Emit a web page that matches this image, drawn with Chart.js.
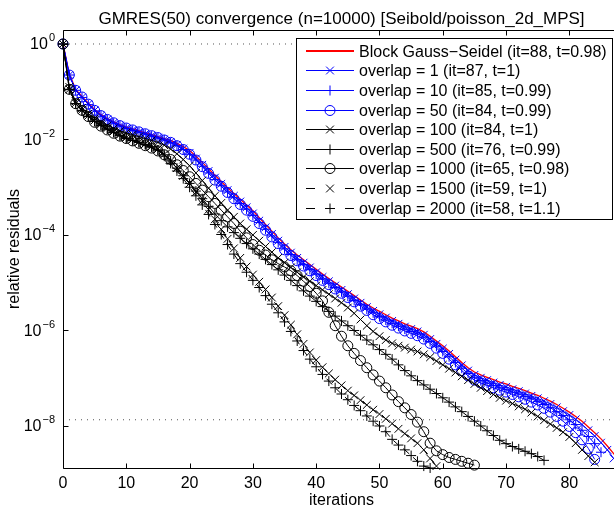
<!DOCTYPE html>
<html><head><meta charset="utf-8">
<script src="https://cdn.jsdelivr.net/npm/chart.js@4/dist/chart.umd.min.js"></script>
<style>
html,body{margin:0;padding:0;overflow:hidden;background:#fff;width:614px;height:509px}
#wrap{position:absolute;left:0;top:0;width:640px;height:509px}
</style>
</head><body><div id="wrap"><canvas id="c" width="640" height="509"></canvas></div>
<script>
// ---- text ----
const titleText = 'GMRES(50) convergence (n=10000) [Seibold/poisson_2d_MPS]';
const xAxisTitle = 'iterations';
const yAxisTitle = 'relative residuals';
const xTicks = [0,10,20,30,40,50,60,70,80];
const yTickExponents = [0,-2,-4,-6,-8];
const seriesLabels = [
  'Block Gauss\u2212Seidel (it=88, t=0.98)',
  'overlap = 1 (it=87, t=1)',
  'overlap = 10 (it=85, t=0.99)',
  'overlap = 50 (it=84, t=0.99)',
  'overlap = 100 (it=84, t=1)',
  'overlap = 500 (it=76, t=0.99)',
  'overlap = 1000 (it=65, t=0.98)',
  'overlap = 1500 (it=59, t=1)',
  'overlap = 2000 (it=58, t=1.1)'
];
// ---- data: log10 of relative residual at iteration 0,1,2,... ----
const gsLog = [0,-0.63,-0.95,-1.1,-1.24,-1.37,-1.48,-1.56,-1.63,-1.69,
 -1.74,-1.78,-1.82,-1.86,-1.9,-1.94,-1.98,-2.02,-2.08,-2.15,
 -2.23,-2.35,-2.48,-2.61,-2.75,-2.88,-3.01,-3.13,-3.25,-3.37,
 -3.49,-3.64,-3.78,-3.92,-4.06,-4.19,-4.31,-4.42,-4.52,-4.62,
 -4.72,-4.82,-4.91,-5.0,-5.09,-5.18,-5.27,-5.36,-5.45,-5.53,
 -5.6,-5.67,-5.74,-5.8,-5.86,-5.91,-5.96,-6.03,-6.12,-6.22,
 -6.32,-6.43,-6.55,-6.67,-6.78,-6.87,-6.93,-6.98,-7.03,-7.08,
 -7.12,-7.17,-7.21,-7.26,-7.31,-7.36,-7.42,-7.48,-7.55,-7.63,
 -7.71,-7.8,-7.9,-8.02,-8.14,-8.27,-8.42,-8.58,-8.75];
const ov1Log = [0,-0.65,-0.97,-1.12,-1.26,-1.39,-1.5,-1.58,-1.65,-1.71,
 -1.76,-1.8,-1.84,-1.88,-1.92,-1.96,-2.0,-2.05,-2.11,-2.19,
 -2.28,-2.4,-2.53,-2.66,-2.8,-2.93,-3.06,-3.18,-3.3,-3.42,
 -3.55,-3.7,-3.84,-3.98,-4.12,-4.25,-4.37,-4.48,-4.58,-4.68,
 -4.78,-4.88,-4.97,-5.06,-5.15,-5.24,-5.33,-5.42,-5.51,-5.59,
 -5.66,-5.73,-5.8,-5.86,-5.92,-5.97,-6.02,-6.09,-6.18,-6.28,
 -6.38,-6.49,-6.61,-6.73,-6.84,-6.93,-6.99,-7.04,-7.09,-7.14,
 -7.18,-7.23,-7.27,-7.32,-7.37,-7.42,-7.48,-7.54,-7.61,-7.69,
 -7.77,-7.86,-7.97,-8.09,-8.21,-8.35,-8.5,-8.68];
const ov10Log = [0,-0.65,-0.97,-1.12,-1.27,-1.4,-1.51,-1.59,-1.66,-1.72,
 -1.77,-1.81,-1.85,-1.89,-1.93,-1.97,-2.01,-2.07,-2.13,-2.21,
 -2.31,-2.43,-2.56,-2.7,-2.84,-2.97,-3.1,-3.22,-3.34,-3.46,
 -3.59,-3.74,-3.88,-4.02,-4.16,-4.29,-4.41,-4.52,-4.62,-4.72,
 -4.82,-4.92,-5.01,-5.1,-5.19,-5.28,-5.37,-5.46,-5.55,-5.63,
 -5.71,-5.78,-5.85,-5.91,-5.97,-6.02,-6.07,-6.14,-6.23,-6.33,
 -6.44,-6.55,-6.67,-6.79,-6.9,-6.99,-7.05,-7.1,-7.15,-7.2,
 -7.24,-7.29,-7.33,-7.38,-7.43,-7.49,-7.55,-7.62,-7.7,-7.78,
 -7.87,-7.97,-8.09,-8.22,-8.37,-8.55];
const ov50Log = [0,-0.65,-0.97,-1.11,-1.26,-1.39,-1.5,-1.58,-1.65,-1.71,
 -1.76,-1.8,-1.84,-1.88,-1.92,-1.96,-2.01,-2.06,-2.13,-2.21,
 -2.31,-2.43,-2.57,-2.71,-2.85,-2.98,-3.11,-3.24,-3.36,-3.48,
 -3.61,-3.76,-3.9,-4.04,-4.18,-4.31,-4.43,-4.54,-4.65,-4.75,
 -4.85,-4.95,-5.04,-5.13,-5.22,-5.31,-5.4,-5.49,-5.58,-5.67,
 -5.75,-5.82,-5.89,-5.95,-6.01,-6.06,-6.11,-6.18,-6.27,-6.37,
 -6.48,-6.6,-6.72,-6.84,-6.95,-7.04,-7.1,-7.15,-7.2,-7.25,
 -7.29,-7.34,-7.39,-7.44,-7.5,-7.56,-7.63,-7.71,-7.8,-7.9,
 -8.01,-8.14,-8.29,-8.47,-8.7];
const ov100Log = [0,-0.9,-1.2,-1.34,-1.46,-1.56,-1.64,-1.71,-1.77,-1.82,
 -1.86,-1.9,-1.94,-1.98,-2.02,-2.06,-2.12,-2.2,-2.3,-2.42,
 -2.55,-2.7,-2.86,-3.02,-3.18,-3.33,-3.48,-3.62,-3.76,-3.88,
 -4.0,-4.12,-4.24,-4.36,-4.48,-4.58,-4.68,-4.78,-4.88,-4.97,
 -5.06,-5.15,-5.24,-5.33,-5.42,-5.52,-5.64,-5.77,-5.9,-6.02,
 -6.12,-6.2,-6.27,-6.32,-6.36,-6.4,-6.44,-6.5,-6.56,-6.64,
 -6.72,-6.8,-6.88,-6.96,-7.04,-7.12,-7.2,-7.27,-7.34,-7.41,
 -7.47,-7.53,-7.59,-7.65,-7.72,-7.8,-7.88,-7.96,-8.04,-8.13,
 -8.23,-8.36,-8.5,-8.63,-8.76];
const ov500Log = [0,-0.95,-1.25,-1.39,-1.51,-1.62,-1.7,-1.78,-1.85,-1.91,
 -1.97,-2.02,-2.06,-2.11,-2.16,-2.22,-2.32,-2.45,-2.6,-2.76,
 -2.92,-3.08,-3.24,-3.4,-3.56,-3.7,-3.83,-3.95,-4.07,-4.18,
 -4.29,-4.4,-4.51,-4.62,-4.73,-4.84,-4.95,-5.06,-5.17,-5.28,
 -5.39,-5.5,-5.6,-5.7,-5.8,-5.9,-6.0,-6.1,-6.2,-6.3,
 -6.4,-6.5,-6.6,-6.72,-6.84,-6.95,-7.05,-7.14,-7.23,-7.32,
 -7.41,-7.5,-7.6,-7.7,-7.8,-7.9,-8.0,-8.1,-8.2,-8.3,
 -8.37,-8.43,-8.48,-8.53,-8.58,-8.64,-8.72];
const ov1000Log = [0,-0.95,-1.25,-1.39,-1.52,-1.64,-1.72,-1.8,-1.87,-1.93,
 -1.98,-2.03,-2.08,-2.13,-2.18,-2.24,-2.32,-2.42,-2.53,-2.65,
 -2.78,-2.92,-3.06,-3.2,-3.34,-3.48,-3.62,-3.76,-3.92,-4.06,
 -4.2,-4.32,-4.42,-4.52,-4.6,-4.67,-4.75,-4.85,-4.97,-5.08,
 -5.22,-5.38,-5.62,-5.9,-6.12,-6.32,-6.48,-6.63,-6.78,-6.93,
 -7.06,-7.2,-7.35,-7.49,-7.62,-7.76,-7.92,-8.12,-8.36,-8.52,
 -8.6,-8.66,-8.7,-8.74,-8.78,-8.82];
const ov1500Log = [0,-0.95,-1.24,-1.38,-1.5,-1.6,-1.68,-1.76,-1.83,-1.9,
 -1.96,-2.0,-2.05,-2.09,-2.14,-2.2,-2.31,-2.45,-2.6,-2.76,
 -2.92,-3.1,-3.28,-3.47,-3.67,-3.88,-4.08,-4.28,-4.48,-4.66,
 -4.83,-4.98,-5.14,-5.31,-5.49,-5.68,-5.88,-6.08,-6.28,-6.46,
 -6.62,-6.77,-6.9,-7.03,-7.15,-7.26,-7.36,-7.46,-7.56,-7.66,
 -7.75,-7.85,-7.95,-8.06,-8.16,-8.26,-8.36,-8.5,-8.68,-8.84];
const ov2000Log = [0,-0.95,-1.25,-1.4,-1.52,-1.62,-1.7,-1.78,-1.85,-1.92,
 -1.98,-2.02,-2.06,-2.1,-2.15,-2.22,-2.35,-2.5,-2.66,-2.82,
 -3.0,-3.18,-3.37,-3.57,-3.78,-3.99,-4.2,-4.4,-4.6,-4.78,
 -4.95,-5.1,-5.27,-5.45,-5.63,-5.82,-6.02,-6.22,-6.42,-6.6,
 -6.76,-6.92,-7.06,-7.2,-7.33,-7.45,-7.57,-7.68,-7.79,-7.9,
 -8.0,-8.12,-8.28,-8.4,-8.5,-8.62,-8.74,-8.84,-8.88];
const referenceLevels = [1, 1.35e-8];
const xRange = [0, 88];
const yRange = [1.318e-9, 1.963];

// ---- styles ----
const seriesLogs = [gsLog, ov1Log, ov10Log, ov50Log, ov100Log, ov500Log, ov1000Log, ov1500Log, ov2000Log];
const seriesStyles = [
  {color:'#ff0000', marker:null, dash:[], width:1.3},
  {color:'#0000ff', marker:'crossRot', dash:[], width:1},
  {color:'#0000ff', marker:'cross', dash:[], width:1},
  {color:'#0000ff', marker:'circle', dash:[], width:1},
  {color:'#000000', marker:'crossRot', dash:[], width:1},
  {color:'#000000', marker:'cross', dash:[], width:1},
  {color:'#000000', marker:'circle', dash:[], width:1},
  {color:'#000000', marker:'crossRot', dash:[8,5], width:1},
  {color:'#000000', marker:'cross', dash:[8,5], width:1}
];
const markerRadius = {circle:5, cross:5, crossRot:5.5};
const FONT = '"Liberation Sans", Arial, Helvetica, sans-serif';

function toPoints(arr){ return arr.map((v,i)=>({x:i, y:Math.pow(10, v)})); }

const datasets = seriesLogs.map((arr, k) => {
  const s = seriesStyles[k];
  return {
    label: seriesLabels[k],
    data: toPoints(arr),
    borderColor: s.color,
    borderWidth: s.width,
    borderDash: s.dash,
    pointStyle: s.marker || false,
    pointRadius: s.marker ? markerRadius[s.marker] : 0,
    pointBorderColor: s.color,
    pointBackgroundColor: 'rgba(0,0,0,0)',
    pointBorderWidth: 1,
    tension: 0,
    fill: false,
    clip: false,
    order: 20 - k
  };
});
referenceLevels.forEach(lv => {
  datasets.push({
    label: '', data: [{x:xRange[0], y:lv}, {x:xRange[1], y:lv}],
    borderColor: '#555', borderWidth: 1, borderDash: [1,5], pointRadius: 0,
    fill: false, order: 30
  });
});

function drawMarker(ctx, style, x, y, color){
  ctx.save();
  ctx.strokeStyle = color; ctx.lineWidth = 1; ctx.setLineDash([]);
  ctx.beginPath();
  if (style === 'circle') { ctx.arc(x, y, markerRadius.circle, 0, Math.PI*2); }
  else if (style === 'cross') { const r = markerRadius.cross; ctx.moveTo(x-r,y); ctx.lineTo(x+r,y); ctx.moveTo(x,y-r); ctx.lineTo(x,y+r); }
  else if (style === 'crossRot') { const r = markerRadius.crossRot*Math.SQRT1_2; ctx.moveTo(x-r,y-r); ctx.lineTo(x+r,y+r); ctx.moveTo(x-r,y+r); ctx.lineTo(x+r,y-r); }
  ctx.stroke();
  ctx.restore();
}

const decor = {
  id: 'decor',
  afterDatasetsDraw(chart){
    const {ctx, chartArea:a, scales:{x, y}} = chart;
    ctx.save();
    ctx.strokeStyle = '#000'; ctx.lineWidth = 1; ctx.setLineDash([]);
    const L = Math.round(a.left)+0.5, T = Math.round(a.top)+0.5, R = Math.round(a.right)+0.5, B = Math.round(a.bottom)+0.5;
    ctx.beginPath();
    ctx.rect(L, T, R-L, B-T);
    xTicks.forEach(v => {
      const px = Math.round(x.getPixelForValue(v))+0.5;
      ctx.moveTo(px, B); ctx.lineTo(px, B-5);
      ctx.moveTo(px, T); ctx.lineTo(px, T+5);
    });
    yTickExponents.forEach(e => {
      const py = Math.round(y.getPixelForValue(Math.pow(10, e)))+0.5;
      ctx.moveTo(L, py); ctx.lineTo(L+5, py);
      ctx.moveTo(R, py); ctx.lineTo(R-5, py);
    });
    ctx.stroke();

    ctx.fillStyle = '#000';
    ctx.font = '16px ' + FONT;
    ctx.textAlign = 'center'; ctx.textBaseline = 'middle';
    xTicks.forEach(v => ctx.fillText(String(v), x.getPixelForValue(v), 484));
    ctx.fillText(xAxisTitle, (a.left+a.right)/2, 501);

    yTickExponents.forEach(e => {
      const py = y.getPixelForValue(Math.pow(10, e));
      const sup = e === 0 ? '0' : '\u2212' + String(-e);
      ctx.font = '11px ' + FONT;
      const ws = ctx.measureText(sup).width;
      ctx.font = '16px ' + FONT;
      const wb = ctx.measureText('10').width;
      const right = 55;
      ctx.textAlign = 'left';
      ctx.fillText('10', right - ws - wb - 1, py + 1);
      ctx.font = '11px ' + FONT;
      ctx.fillText(sup, right - ws, py - 6);
    });

    ctx.font = '16px ' + FONT;
    ctx.textAlign = 'center';
    ctx.save();
    ctx.translate(15, (a.top+a.bottom)/2);
    ctx.rotate(-Math.PI/2);
    ctx.fillText(yAxisTitle, 0, 0);
    ctx.restore();

    ctx.font = '17px ' + FONT;
    ctx.fillText(titleText, (a.left+a.right)/2, 19);

    // legend
    const bx = 296.5, by = 38.5, bw = 316, bh = 181;
    ctx.fillStyle = '#fff';
    ctx.fillRect(bx, by, bw, bh);
    ctx.strokeStyle = '#000';
    ctx.lineWidth = 1;
    ctx.strokeRect(bx, by, bw, bh);
    seriesLabels.forEach((lab, k) => {
      const s = seriesStyles[k];
      const cy = Math.round(50.7 + k*19.6);
      ctx.strokeStyle = s.color; ctx.lineWidth = s.marker ? 1 : 2; ctx.setLineDash([]);
      const ly = s.marker ? cy + 0.5 : cy;
      ctx.beginPath();
      if (s.dash.length) {
        ctx.moveTo(306, ly); ctx.lineTo(315, ly);
        ctx.moveTo(345, ly); ctx.lineTo(354, ly);
      } else {
        ctx.moveTo(306, ly); ctx.lineTo(354, ly);
      }
      ctx.stroke();
      if (s.marker) drawMarker(ctx, s.marker, 330, cy + 0.5, s.color);
      ctx.fillStyle = '#000';
      ctx.font = '16px ' + FONT;
      ctx.textAlign = 'left'; ctx.textBaseline = 'middle';
      ctx.fillText(lab, 359, cy + 1.5);
    });
    ctx.restore();
  }
};

new Chart(document.getElementById('c'), {
  type: 'line',
  data: { datasets },
  options: {
    responsive: false,
    animation: false,
    devicePixelRatio: 1,
    layout: { padding: { left: 63, right: 20, top: 30, bottom: 41 } },
    plugins: { legend: { display: false }, tooltip: { enabled: false }, title: { display: false } },
    scales: {
      x: { type: 'linear', min: xRange[0], max: xRange[1], display: false },
      y: { type: 'logarithmic', min: yRange[0], max: yRange[1], display: false }
    }
  },
  plugins: [decor]
});
</script>
</body></html>
